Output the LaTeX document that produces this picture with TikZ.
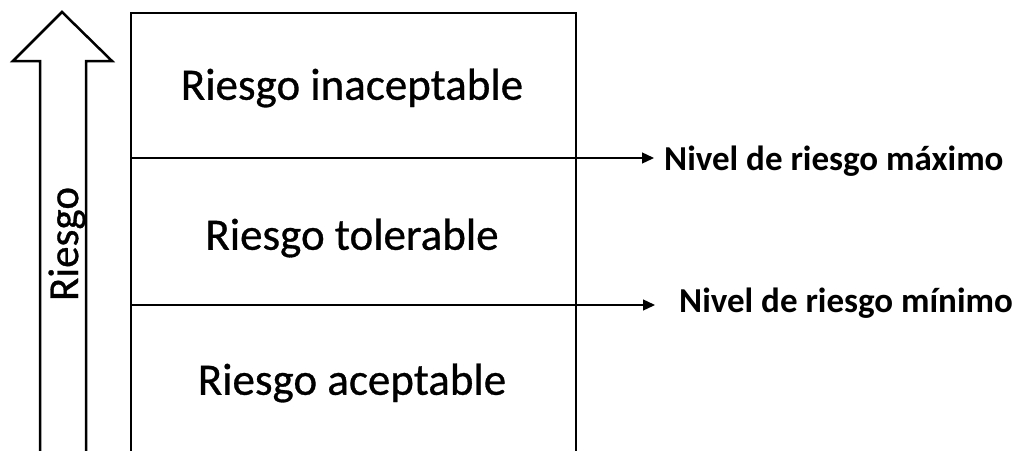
\documentclass[tikz,border=0pt]{standalone}
\usepackage{fontspec}
\setmainfont{Carlito}
\newfontfamily\heavyfont[FakeBold=0.7]{Carlito}
\usetikzlibrary{arrows.meta}
\begin{document}
\begin{tikzpicture}[x=1pt,y=1pt,
  boxline/.style={line width=2pt,line join=miter},
  divline/.style={line width=1.3pt,-{Triangle[length=12pt,width=11pt]}},
  zonelabel/.style={font=\heavyfont\fontsize{45}{50}\selectfont,inner sep=0pt},
  levellabel/.style={font=\bfseries\fontsize{35}{40}\selectfont,anchor=west,inner sep=0pt},
  axislabel/.style={font=\heavyfont\fontsize{43}{48}\selectfont,rotate=90,inner sep=0pt}]
\useasboundingbox (0,0) rectangle (1019,-450);
% up arrow
\draw[line width=2.5pt,line join=miter] (40,-452) -- (40,-61) -- (13,-61) -- (62,-12) -- (112,-61) -- (86,-61) -- (86,-452);
\node[axislabel] (riesgo) at (67,-244) {Riesgo};
% box (open at bottom)
\coordinate (bl) at (131,-452);
\coordinate (tl) at (131,-13);
\coordinate (tr) at (576,-13);
\coordinate (br) at (576,-452);
\draw[boxline] (bl) -- (tl) -- (tr) -- (br);
% zone labels
\node[zonelabel] (inac) at (352,-88) {Riesgo inaceptable};
\node[zonelabel] (tol) at (352,-238) {Riesgo tolerable};
\node[zonelabel] (acep) at (352,-383) {Riesgo aceptable};
% level labels
\node[levellabel] (max) at (664,-161) {Nivel de riesgo máximo};
\node[levellabel] (min) at (679,-303) {Nivel de riesgo mínimo};
\coordinate (d1) at (131,-158);
\coordinate (d2) at (131,-305);
\draw[divline] (d1) -- (d1 -| max.west) [shorten >=10pt];
\draw[divline] (d2) -- (d2 -| min.west) [shorten >=24pt];
\end{tikzpicture}
\end{document}
